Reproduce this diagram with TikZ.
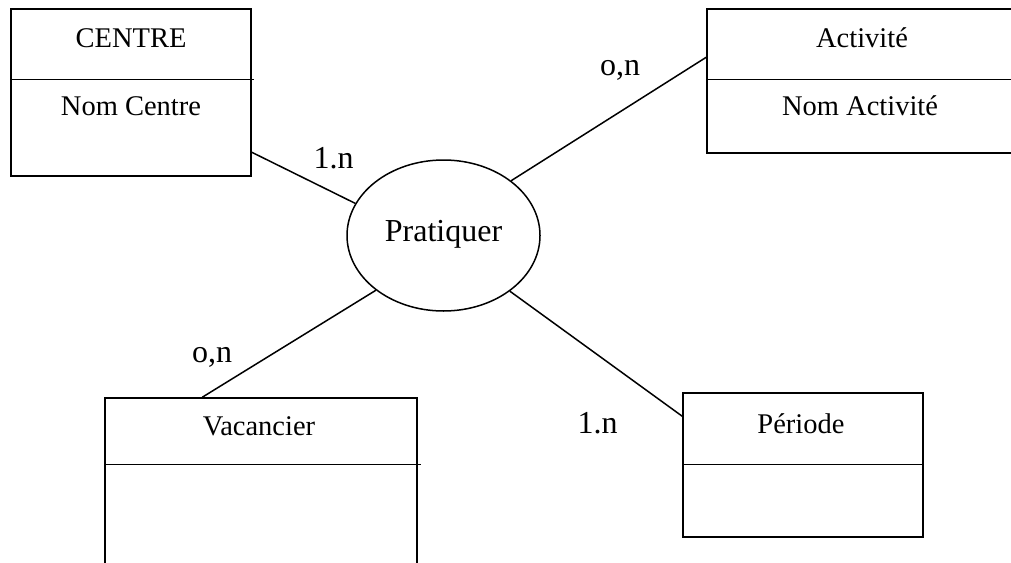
\documentclass[tikz,border=0pt]{standalone}
\usepackage{fontspec}
\setmainfont{Liberation Serif}
\usetikzlibrary{shapes.geometric,calc}
\begin{document}
\begin{tikzpicture}[x=1pt,y=-1pt,
  entity/.style={draw,rectangle,inner sep=0pt,line width=1.5pt},
  boxtext/.style={anchor=base,inner sep=0pt,font=\fontsize{28.5}{34}\selectfont},
  card/.style={anchor=base,inner sep=0pt,font=\fontsize{32}{38}\selectfont},
  link/.style={line width=1.5pt}]
\useasboundingbox (0,0) rectangle (1011,562);
% entities
\node[entity,minimum width=240pt,minimum height=167pt] (centre) at (131,92.5) {};
\node[entity,minimum width=310pt,minimum height=144pt] (act) at (862,81) {};
\node[entity,minimum width=312pt,minimum height=180pt] (vac) at (261,488) {};
\node[entity,minimum width=240pt,minimum height=144pt] (per) at (803,465) {};
% dividers
\draw[link] ($(centre.north west)+(0,71)$) -- ($(centre.north east)+(2,71)$);
\draw[link] ($(act.north west)+(0,71)$) -- ($(act.north east)+(0,71)$);
\draw[link] ($(vac.north west)+(0,67)$) -- ($(vac.north east)+(3,67)$);
\draw[link] ($(per.north west)+(0,72)$) -- ($(per.north east)+(0,72)$);
% texts
\node[boxtext] (tcentre) at (131,47) {CENTRE};
\node[boxtext] (tnomc) at (131,115) {Nom Centre};
\node[boxtext] (tact) at (862,47) {Activité};
\node[boxtext] (tnoma) at (860,115) {Nom Activité};
\node[boxtext] (tvac) at (259,435) {Vacancier};
\node[boxtext] (tper) at (801,433) {Période};
% relation
\node[draw,ellipse,line width=1.5pt,minimum width=193pt,minimum height=151pt,inner sep=0pt] (prat) at (443.5,235.5) {};
\node[card] (tprat) at (443.5,241) {Pratiquer};
% connectors
\draw[link] ($(centre.north east)+(0,144)$) -- (prat.160.9);
\draw[link] ($(act.north west)+(0,49)$) -- (prat.39.3);
\draw[link] ($(vac.north west)+(98,0)$) -- (prat.219.9);
\draw[link] ($(per.north west)+(0,24)$) -- (prat.-40.7);
% cardinalities
\node[card] (c1) at (333.5,168) {1.n};
\node[card] (c2) at (620,75) {o,n};
\node[card] (c3) at (212,362) {o,n};
\node[card] (c4) at (597.5,433) {1.n};
\end{tikzpicture}
\end{document}
